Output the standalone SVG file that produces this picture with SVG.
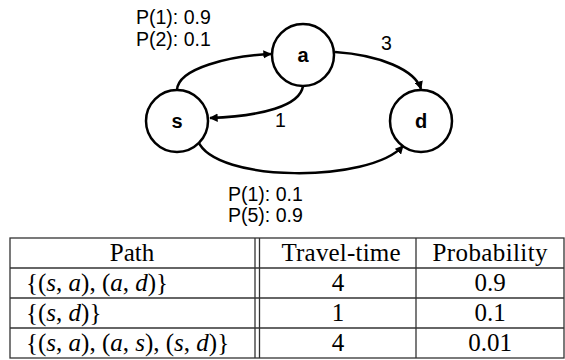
<svg xmlns="http://www.w3.org/2000/svg" width="565" height="360" viewBox="0 0 565 360">
<style>
.node circle{fill:#fff;stroke:#000;stroke-width:2.5}
.node text{font-family:"Liberation Sans",Arial,sans-serif;font-weight:bold;font-size:20px;text-anchor:middle}
.edge{fill:none;stroke:#000;stroke-width:2.5;marker-end:url(#arr)}
.lbl{font-family:"Liberation Sans",Arial,sans-serif;font-size:19.5px;fill:#000}
.tb{stroke:#333;stroke-width:1.3;fill:none}
.tt{font-family:"Liberation Serif","Times New Roman",serif;font-size:25px;fill:#000}
.c{text-anchor:middle}
.i{font-style:italic}
</style>
<defs>
<marker id="arr" viewBox="0 0 10 10" refX="9" refY="5" markerWidth="3.4" markerHeight="3.4" orient="auto" markerUnits="strokeWidth">
<path d="M0,0 L10,5 L0,10 z" fill="#000"/>
</marker>
</defs>
<g id="connectors">
<path class="edge" d="M177,90 C178,68 230,56 271,54"/>
<path class="edge" d="M303,86 C300,106 262,116 210,118"/>
<path class="edge" d="M335,52 C380,55 415,70 421,89"/>
<path class="edge" d="M198,141 C215,183 370,183 403,146"/>
</g>
<g id="node-a" class="node"><circle cx="303" cy="55" r="31"/><text x="303" y="62">a</text></g>
<g id="node-s" class="node"><circle cx="177" cy="121" r="31"/><text x="177" y="128">s</text></g>
<g id="node-d" class="node"><circle cx="421" cy="121" r="31"/><text x="421" y="128">d</text></g>
<g id="labels">
<text class="lbl" x="136" y="24">P(1): 0.9</text>
<text class="lbl" x="136" y="46">P(2): 0.1</text>
<text class="lbl" x="381" y="50">3</text>
<text class="lbl" x="275" y="127">1</text>
<text class="lbl" x="228" y="201">P(1): 0.1</text>
<text class="lbl" x="228" y="222">P(5): 0.9</text>
</g>
<g id="table">
<rect class="tb" x="10" y="238" width="554" height="120"/>
<line class="tb" x1="10" y1="268" x2="564" y2="268"/>
<line class="tb" x1="10" y1="298" x2="564" y2="298"/>
<line class="tb" x1="10" y1="328" x2="564" y2="328"/>
<line class="tb" x1="255" y1="238" x2="255" y2="358"/>
<line class="tb" x1="259.5" y1="238" x2="259.5" y2="358"/>
<line class="tb" x1="416" y1="238" x2="416" y2="358"/>
<text class="tt c" x="132" y="261">Path</text>
<text class="tt c" x="341" y="261" textLength="119">Travel-time</text>
<text class="tt c" x="490" y="261" textLength="115">Probability</text>
<text class="tt" x="26" y="291">{(<tspan class="i">s</tspan>, <tspan class="i">a</tspan>), (<tspan class="i">a</tspan>, <tspan class="i">d</tspan>)}</text>
<text class="tt c" x="338" y="291">4</text>
<text class="tt c" x="490" y="291">0.9</text>
<text class="tt" x="26" y="321">{(<tspan class="i">s</tspan>, <tspan class="i">d</tspan>)}</text>
<text class="tt c" x="338" y="321">1</text>
<text class="tt c" x="490" y="321">0.1</text>
<text class="tt" x="26" y="351">{(<tspan class="i">s</tspan>, <tspan class="i">a</tspan>), (<tspan class="i">a</tspan>, <tspan class="i">s</tspan>), (<tspan class="i">s</tspan>, <tspan class="i">d</tspan>)}</text>
<text class="tt c" x="338" y="351">4</text>
<text class="tt c" x="490" y="351">0.01</text>
</g>
</svg>
